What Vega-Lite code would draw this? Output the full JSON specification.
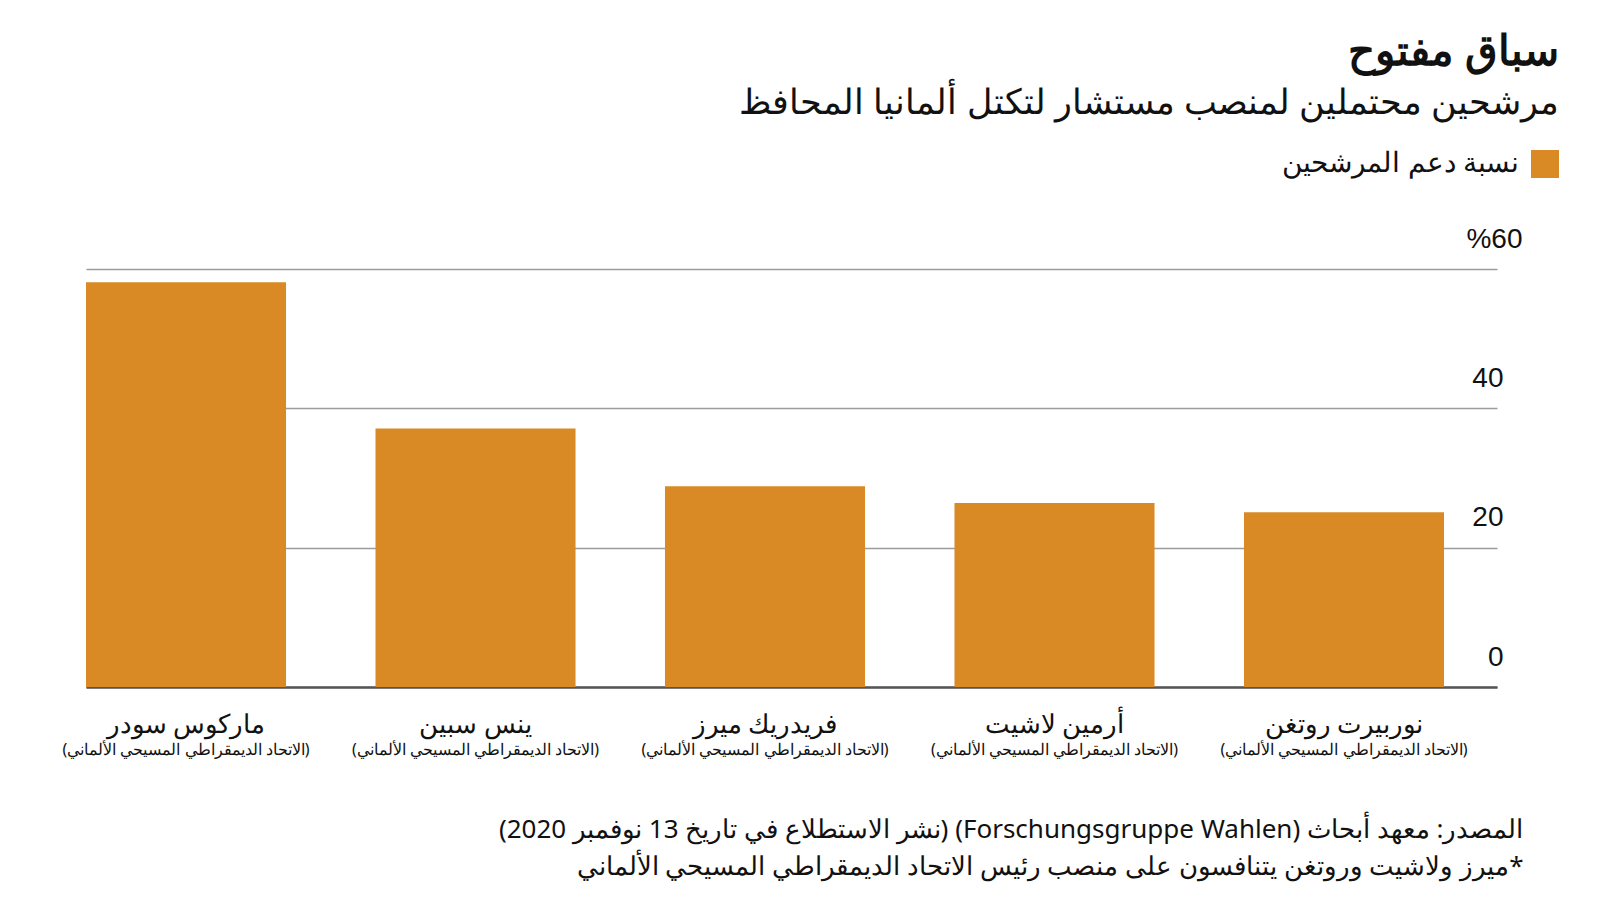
{
  "$schema": "https://vega.github.io/schema/vega-lite/v6.json",
  "width": 1411,
  "height": 418,
  "autosize": "none",
  "padding": {"left": 86, "top": 269, "right": 103, "bottom": 213},
  "background": "white",
  "config": {
    "font": "Noto Sans",
    "view": {"stroke": null}
  },
  "title": {
    "text": "\u202bسباق مفتوح\u202c",
    "subtitle": "\u202bمرشحين محتملين لمنصب مستشار لتكتل ألمانيا المحافظ\u202c",
    "anchor": "end",
    "frame": "group",
    "dx": 62,
    "offset": 28,
    "fontSize": 42,
    "fontWeight": "bold",
    "color": "#111111",
    "subtitleFontSize": 35,
    "subtitleColor": "#111111",
    "subtitlePadding": 12
  },
  "data": {
    "values": [
      {"name": "ماركوس سودر", "party": "(الاتحاد الديمقراطي المسيحي الألماني)", "value": 58.1, "series": "نسبة دعم المرشحين"},
      {"name": "ينس سبين", "party": "(الاتحاد الديمقراطي المسيحي الألماني)", "value": 37.1, "series": "نسبة دعم المرشحين"},
      {"name": "فريدريك ميرز", "party": "(الاتحاد الديمقراطي المسيحي الألماني)", "value": 28.8, "series": "نسبة دعم المرشحين"},
      {"name": "أرمين لاشيت", "party": "(الاتحاد الديمقراطي المسيحي الألماني)", "value": 26.4, "series": "نسبة دعم المرشحين"},
      {"name": "نوربيرت روتغن", "party": "(الاتحاد الديمقراطي المسيحي الألماني)", "value": 25.1, "series": "نسبة دعم المرشحين"}
    ]
  },
  "resolve": {"scale": {"x": "independent"}, "axis": {"x": "independent"}},
  "layer": [
    {
      "mark": {"type": "bar"},
      "encoding": {
        "x": {
          "field": "name",
          "type": "nominal",
          "sort": null,
          "scale": {"paddingInner": 0.309, "paddingOuter": 0.0915, "align": 0},
          "axis": {
            "orient": "bottom",
            "title": null,
            "labelAngle": 0,
            "labelFontSize": 26,
            "labelColor": "#111111",
            "labelPadding": 24,
            "labelBaseline": "top",
            "labelLimit": 0,
            "ticks": false,
            "domain": true,
            "domainColor": "#555555",
            "domainWidth": 2.5,
            "grid": false
          }
        },
        "y": {
          "field": "value",
          "type": "quantitative",
          "scale": {"domain": [0, 60]},
          "axis": {
            "title": null,
            "orient": "right",
            "values": [0, 20, 40, 60],
            "grid": true,
            "gridColor": "#9c9c9c",
            "gridWidth": 1.4,
            "domain": false,
            "ticks": false,
            "labelFont": "Liberation Sans",
            "labelFontSize": 28,
            "labelColor": "#111111",
            "labelAlign": "right",
            "labelBaseline": "alphabetic",
            "labelOffset": -22,
            "labelPadding": {"condition": {"test": "datum.value == 60", "value": 25}, "value": 6},
            "labelExpr": "datum.value == 60 ? '%60' : datum.label"
          }
        },
        "color": {
          "field": "series",
          "type": "nominal",
          "scale": {"range": ["#DA8A24"]},
          "legend": {
            "orient": "none",
            "legendX": 1445,
            "legendY": -119,
            "title": null,
            "padding": 0,
            "symbolType": "square",
            "symbolSize": 784,
            "symbolStrokeWidth": 0,
            "labelFontSize": 28,
            "labelLimit": 0,
            "labelColor": "#111111",
            "labelAlign": "right",
            "labelOffset": -40
          }
        }
      }
    },
    {
      "mark": {"type": "bar", "opacity": 0},
      "encoding": {
        "x": {
          "field": "name",
          "type": "nominal",
          "sort": null,
          "scale": {"paddingInner": 0.309, "paddingOuter": 0.0915, "align": 0},
          "axis": {
            "orient": "bottom",
            "labelExpr": "'\u202b(الاتحاد الديمقراطي المسيحي الألماني)\u202c'",
            "labelAngle": 0,
            "labelFontSize": 16,
            "labelLimit": 0,
            "labelColor": "#111111",
            "labelPadding": 0,
            "labelBaseline": "top",
            "ticks": false,
            "domain": false,
            "grid": false,
            "offset": 54,
            "title": [
              "\u202bالمصدر: معهد أبحاث (Forschungsgruppe Wahlen) (نشر الاستطلاع في تاريخ 13 نوفمبر 2020)\u202c",
              "\u202b*ميرز ولاشيت وروتغن يتنافسون على منصب رئيس الاتحاد الديمقراطي المسيحي الألماني\u202c"
            ],
            "titleFontSize": 26,
            "titleFontWeight": "normal",
            "titleColor": "#111111",
            "titleAnchor": "end",
            "titleAlign": "right",
            "titleBaseline": "alphabetic",
            "titleX": 1437,
            "titleY": 96,
            "titleLineHeight": 37
          }
        },
        "y": {"field": "value", "type": "quantitative"}
      }
    }
  ]
}
